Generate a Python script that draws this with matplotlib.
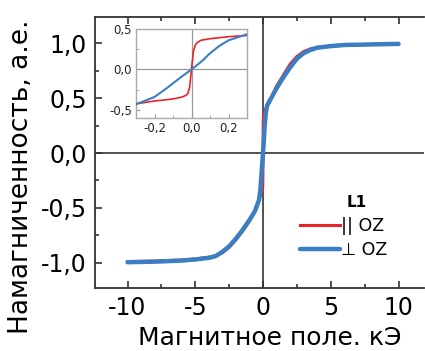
import matplotlib
matplotlib.use("Agg")
import matplotlib.pyplot as plt
from matplotlib.ticker import MultipleLocator, FuncFormatter

plt.rcParams['font.family'] = ['DejaVu Sans']

# Red: field parallel to OZ
H_par = [-10, -8, -6, -5, -4, -3.5, -3, -2.5, -2, -1.5, -1, -0.6, -0.3, -0.2, -0.1,
         -0.05, -0.03, -0.02, -0.01, 0, 0.01, 0.02, 0.03, 0.05, 0.1, 0.2, 0.3, 0.6,
         1.0, 1.5, 2.0, 2.5, 3, 3.5, 4, 5, 6, 8, 10]
M_par = [-0.99, -0.985, -0.975, -0.965, -0.95, -0.935, -0.91, -0.86, -0.79, -0.71,
         -0.62, -0.53, -0.425, -0.39, -0.365, -0.34, -0.32, -0.30, -0.22, 0.0, 0.22,
         0.30, 0.33, 0.36, 0.38, 0.405, 0.42, 0.50, 0.61, 0.71, 0.81, 0.88, 0.925,
         0.95, 0.963, 0.975, 0.982, 0.99, 0.995]

# Blue: field perpendicular to OZ
H_perp = [-10, -8, -6, -5, -4, -3.5, -3, -2.5, -2, -1.5, -1, -0.6, -0.3, -0.2, -0.13,
          -0.06, 0, 0.06, 0.1, 0.15, 0.2, 0.3, 0.6, 1.0, 1.5, 2.0, 2.5, 3, 3.5, 4,
          5, 6, 8, 10]
M_perp = [-0.995, -0.99, -0.98, -0.97, -0.955, -0.94, -0.90, -0.85, -0.78, -0.70,
          -0.61, -0.53, -0.43, -0.34, -0.225, -0.10, 0.0, 0.11, 0.20, 0.29, 0.36,
          0.435, 0.50, 0.59, 0.69, 0.78, 0.86, 0.91, 0.94, 0.96, 0.975, 0.985,
          0.99, 0.995]

legend_title = "L1"
labels = ["|| OZ", "\u22a5 OZ"]
colors = ["#e8232a", "#3b7fc2"]

fig = plt.figure(figsize=(4.25, 3.51), dpi=100)
ax = fig.add_axes([95/425, 1-288/351, 329/425, (288-17)/351])

ax.axhline(0, color="#444444", lw=1.3, zorder=1)
ax.axvline(0, color="#444444", lw=1.3, zorder=1)
l1, = ax.plot(H_par, M_par, color=colors[0], lw=2.2, zorder=3)
l2, = ax.plot(H_perp, M_perp, color=colors[1], lw=3.2, zorder=4, solid_capstyle='round')

ax.set_xlim(-12.4, 11.88)
ax.set_ylim(-1.23, 1.24)
ax.xaxis.set_major_locator(MultipleLocator(5))
ax.xaxis.set_minor_locator(MultipleLocator(2.5))
ax.yaxis.set_major_locator(MultipleLocator(0.5))
ax.yaxis.set_minor_locator(MultipleLocator(0.25))
comma = FuncFormatter(lambda v, p: f"{v:.1f}".replace(".", ","))
ax.yaxis.set_major_formatter(comma)
ax.xaxis.set_major_formatter(FuncFormatter(lambda v, p: f"{v:.0f}"))
ax.tick_params(which="both", direction="in", top=True, right=False, colors="#333333",
               labelcolor="black", width=1.2)
ax.tick_params(which="major", length=5, labelsize=17, pad=6)
ax.tick_params(which="minor", length=3)
ax.spines["right"].set_visible(False)
for s in ["left", "top", "bottom"]:
    ax.spines[s].set_color("#333333")
    ax.spines[s].set_linewidth(1.3)

ax.set_xlabel("Магнитное поле. кЭ", fontsize=18)
ax.xaxis.set_label_coords(0.532, -0.14)
ax.set_ylabel("Намагниченность, а.е.", fontsize=19)
ax.yaxis.set_label_coords(-0.185, 0.41)

ax.text(0.796, 0.314, legend_title, transform=ax.transAxes, fontsize=11,
        fontweight="bold", ha="center", va="center")
leg = ax.legend([l1, l2], labels, frameon=False,
                loc="center left", bbox_to_anchor=(0.612, 0.185), fontsize=12.5,
                handlelength=2.3, handletextpad=0.1, labelspacing=0.35,
                borderpad=0.2, borderaxespad=0)

# inset
axi = fig.add_axes([136/425, 1-118/351, 111/425, (118-29)/351])
axi.axhline(0, color="#999999", lw=0.9, zorder=1)
axi.axvline(0, color="#999999", lw=0.9, zorder=1)
axi.plot(H_par, M_par, color=colors[0], lw=1.2, zorder=3)
axi.plot(H_perp, M_perp, color=colors[1], lw=1.5, zorder=4)
axi.set_xlim(-0.3, 0.3)
axi.set_ylim(-0.6, 0.5)
axi.xaxis.set_major_locator(MultipleLocator(0.2))
axi.xaxis.set_minor_locator(MultipleLocator(0.1))
axi.yaxis.set_major_locator(MultipleLocator(0.5))
axi.yaxis.set_minor_locator(MultipleLocator(0.25))
axi.yaxis.set_major_formatter(comma)
axi.xaxis.set_major_formatter(comma)
axi.tick_params(which="both", direction="in", colors="#999999", labelcolor="#222222",
                labelsize=8.5, pad=3)
axi.tick_params(which="major", length=3)
axi.tick_params(which="minor", length=2)
for s in axi.spines.values():
    s.set_color("#aaaaaa")
    s.set_linewidth(1.0)

fig.savefig("out.png", dpi=100)
